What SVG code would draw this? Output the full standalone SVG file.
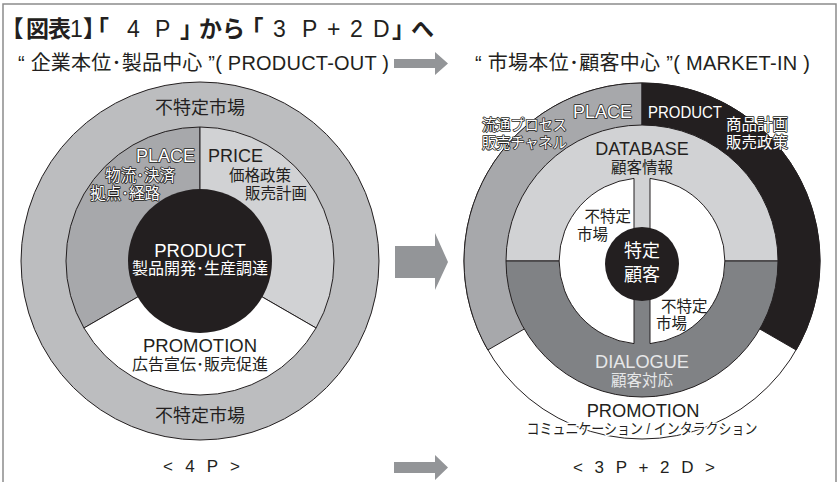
<svg xmlns="http://www.w3.org/2000/svg" width="839" height="482" viewBox="0 0 839 482">
<style>
text{font-family:"Liberation Sans","Noto Sans CJK JP",sans-serif;fill:#231f20}
.c{text-anchor:middle}
.ol{fill:#fff;stroke:#231f20;stroke-width:1.6;paint-order:stroke;stroke-linejoin:round}
.halo{stroke:#fff;stroke-width:3;paint-order:stroke;stroke-linejoin:round}
.w{fill:#fff}
.lt{fill:#e6e7e8}
.b{font-weight:bold}
.h{font-feature-settings:"halt"}
.sec{stroke:#231f20;stroke-width:1}
.arrow{fill:#939598}
</style>
<rect width="839" height="482" fill="#fff"/>
<path d="M3,482 V4 H836 V482" fill="none" stroke="#8c8c8c" stroke-width="1.5"/>

<g id="title">
<text y="37" font-size="23"><tspan x="12" class="b h">【</tspan><tspan x="26 48" class="b">図表</tspan><tspan x="70">1</tspan><tspan x="83" class="b h" letter-spacing="3">】「</tspan><tspan x="127 155">4P</tspan><tspan x="180" class="b h">」</tspan><tspan x="199" class="b">から</tspan><tspan x="252" class="b h">「</tspan><tspan x="273 302 327 350 373">3P+2D</tspan><tspan x="392" class="b h">」</tspan><tspan x="411" class="b">へ</tspan></text>
<text x="18" y="70" font-size="20" textLength="371" lengthAdjust="spacing">“ 企業本位･製品中心 ”( PRODUCT-OUT )</text>
<text x="475" y="70" font-size="20" textLength="335" lengthAdjust="spacing">“ 市場本位･顧客中心 ”( MARKET-IN )</text>
</g>

<g id="connectors">
<polygon class="arrow" points="394,59 435,59 435,52 448,63.5 435,75 435,68 394,68"/>
<polygon class="arrow" points="395,246 435,246 435,233 448,262 435,290 435,278 395,278"/>
<polygon class="arrow" points="394,462 435,462 435,455 448,467.5 435,480 435,473 394,473"/>
</g>

<g id="left-4p">
<circle cx="200" cy="261" r="179" fill="#bcbdbf" class="sec"/>
<path class="sec" fill="#a7a8ab" d="M200,261 L200,127 A134,134 0 0 0 83.95,328 Z"/>
<path class="sec" fill="#d1d2d4" d="M200,261 L200,127 A134,134 0 0 1 316.05,328 Z"/>
<path class="sec" fill="#ffffff" d="M200,261 L83.95,328 A134,134 0 0 0 316.05,328 Z"/>
<circle cx="200" cy="261" r="72" fill="#231f20"/>
<text class="c" x="200" y="114" font-size="18">不特定市場</text>
<text class="ol" x="195" y="162" font-size="18" text-anchor="end">PLACE</text>
<text class="ol" x="175" y="181" font-size="15.5" text-anchor="end">物流･決済</text>
<text class="ol" x="160" y="199" font-size="15.5" text-anchor="end">拠点･経路</text>
<text x="208" y="162" font-size="18">PRICE</text>
<text x="229" y="181" font-size="15.5">価格政策</text>
<text x="245" y="199" font-size="15.5">販売計画</text>
<text class="c w" x="200" y="257" font-size="18.5">PRODUCT</text>
<text class="c w" x="200" y="274" font-size="16">製品開発･生産調達</text>
<text class="c" x="200" y="352" font-size="18.5">PROMOTION</text>
<text class="c" x="200" y="370" font-size="16">広告宣伝･販売促進</text>
<text class="c" x="200" y="422" font-size="18">不特定市場</text>
<text x="163" y="472" font-size="17" textLength="77" lengthAdjust="spacing">&lt; 4 P &gt;</text>
</g>

<g id="right-3p2d">
<circle cx="642" cy="261" r="178" fill="#ffffff" class="sec"/>
<path class="sec" fill="#a7a8ab" d="M642,261 L642,83 A178,178 0 0 0 487.85,350 Z"/>
<path class="sec" fill="#231f20" d="M642,261 L642,83 A178,178 0 0 1 796.15,350 Z"/>
<path class="sec" fill="#d1d2d4" d="M506,261 A136,136 0 0 1 778,261 Z"/>
<path class="sec" fill="#808285" d="M506,261 A136,136 0 0 0 778,261 Z"/>
<path class="sec" fill="#ffffff" d="M634,178.4 A83,83 0 0 0 634,343.6 Z"/>
<path class="sec" fill="#ffffff" d="M650,178.4 A83,83 0 0 1 650,343.6 Z"/>
<circle cx="642" cy="264" r="37" fill="#231f20"/>
<text class="ol" x="573" y="118" font-size="18">PLACE</text>
<text class="ol" x="648" y="118" font-size="17" textLength="74" lengthAdjust="spacingAndGlyphs">PRODUCT</text>
<text class="ol" x="482" y="130" font-size="15" textLength="85" lengthAdjust="spacingAndGlyphs">流通プロセス</text>
<text class="ol" x="482" y="148" font-size="15" textLength="85" lengthAdjust="spacingAndGlyphs">販売チャネル</text>
<text class="ol" x="726" y="130" font-size="15.5">商品計画</text>
<text class="ol" x="726" y="148" font-size="15.5">販売政策</text>
<text class="c" x="642" y="155" font-size="18">DATABASE</text>
<text class="c" x="642" y="173" font-size="15.5">顧客情報</text>
<text x="631" y="222" font-size="15.5" text-anchor="end">不特定</text>
<text x="577" y="240" font-size="15.5">市場</text>
<text class="c w" x="642" y="257" font-size="18">特定</text>
<text class="c w" x="642" y="281" font-size="18">顧客</text>
<text x="661" y="312" font-size="15.5">不特定</text>
<text x="656" y="329" font-size="15.5">市場</text>
<text class="c lt" x="642" y="368" font-size="18.2">DIALOGUE</text>
<text class="c lt" x="642" y="386" font-size="15.5">顧客対応</text>
<text class="c" x="643" y="417" font-size="18.3">PROMOTION</text>
<text class="c halo" x="642" y="434" font-size="15" textLength="231" lengthAdjust="spacingAndGlyphs">コミュニケーション / インタラクション</text>
<text x="573" y="473" font-size="17" textLength="142" lengthAdjust="spacing">&lt; 3 P + 2 D &gt;</text>
</g>
</svg>
